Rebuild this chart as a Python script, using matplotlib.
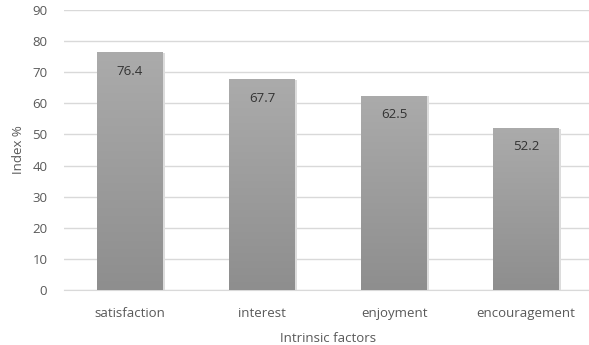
import matplotlib
matplotlib.use("Agg")
import matplotlib.pyplot as plt
import numpy as np

categories = ["satisfaction", "interest", "enjoyment", "encouragement"]
values = [76.4, 67.7, 62.5, 52.2]
yticks = [0, 10, 20, 30, 40, 50, 60, 70, 80, 90]

plt.rcParams['font.family'] = ['Open Sans', 'DejaVu Sans']

fig = plt.figure(figsize=(5.89, 3.45), dpi=100)
ax = fig.add_axes([64/589, 55/345, 528/589, 280/345])
x = np.arange(len(categories))
bars = ax.bar(x, values, width=0.5, color='#9c9c9c', zorder=3)

grad = np.linspace(0, 1, 256).reshape(-1, 1)
cmap = matplotlib.colors.LinearSegmentedColormap.from_list('g', ['#8e8e8e', '#ababab'])
for b in bars:
    ax.bar(b.get_x() + b.get_width()/2 + 0.012, b.get_height() - 0.3, width=b.get_width(),
           color='#dcdcdc', zorder=2)
    im = ax.imshow(grad, extent=[b.get_x(), b.get_x() + b.get_width(), 0, b.get_height()],
                   origin='lower', cmap=cmap, aspect='auto', zorder=4)
    im.set_clip_path(b)

for xi, v in zip(x, values):
    ax.text(xi, v - 6.2, f"{v}", ha='center', va='center', fontsize=9.5, color='#333333', zorder=5)

ax.set_xlim(-0.5, 3.5)
ax.set_ylim(0, 90)
ax.set_yticks(yticks)
ax.set_xticks(x)
ax.set_xticklabels(categories)
ax.grid(axis='y', color='#d9d9d9', linewidth=1, zorder=0)
ax.set_axisbelow(True)
for s in ['top', 'right', 'left']:
    ax.spines[s].set_visible(False)
ax.spines['bottom'].set_color('#d9d9d9')
ax.tick_params(axis='both', length=0, labelsize=9.5, colors='#595959')
ax.tick_params(axis='y', pad=12)
ax.tick_params(axis='x', pad=12)
ax.set_xlabel("Intrinsic factors", fontsize=9.5, color='#595959', labelpad=9)
ax.set_ylabel("Index %", fontsize=9.5, color='#595959', labelpad=5)

fig.savefig("out.png", dpi=100)
